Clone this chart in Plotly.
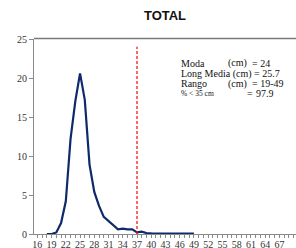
import plotly.graph_objects as go

# Data
lengths = list(range(18, 50))
freq = [0, 0, 0.2, 1.4, 4.2, 12.2, 17.0, 20.6, 17.2, 8.9, 5.4, 3.6, 2.2, 1.7, 1.1, 0.6,
        0.7, 0.6, 0.6, 0.2, 0.3, 0.12, 0.08, 0.06, 0.05, 0.05, 0.05, 0.05, 0.05, 0.05, 0.05, 0.05]
ref_x = [37, 37]
ref_y = [0, 24]
x_ticks = list(range(16, 71, 3))
y_ticks = [0, 5, 10, 15, 20, 25]

W, H = 296, 248
ml, mr, mt, mb = 34, 0, 39, 14
pw, ph = W - ml - mr, H - mt - mb

def px(x):
    return (x - ml) / pw

def py(y):
    return 1 - (y - mt) / ph

fig = go.Figure()
fig.add_trace(go.Scatter(x=lengths, y=freq, mode="lines",
                         line=dict(color="#0d2a6b", width=2.2), hoverinfo="skip"))
fig.add_trace(go.Scatter(x=ref_x, y=ref_y, mode="lines",
                         line=dict(color="#ff0000", width=1.2, dash="3px,2px"), hoverinfo="skip"))

serif = "Liberation Serif, Times New Roman, serif"
fig.update_layout(
    width=W, height=H, margin=dict(l=ml, r=mr, t=mt, b=mb, autoexpand=False),
    paper_bgcolor="white", plot_bgcolor="white", showlegend=False,
    title=dict(text="<b>TOTAL</b>", x=165 / W, xref="container", xanchor="center",
               y=1 - 15 / H, yref="container", yanchor="middle", automargin=False,
               font=dict(family="Liberation Sans, Arial, sans-serif", size=13, color="#111")),
    xaxis=dict(range=[15.3, 70.5], tickmode="array", tickvals=x_ticks, automargin=False,
               ticktext=[str(v) for v in x_ticks], showgrid=False, zeroline=False,
               showline=True, linecolor="#8a8a8a", linewidth=1,
               ticks="outside", ticklen=1, tickcolor="#8a8a8a",
               minor=dict(dtick=1, tick0=16, ticks="outside", ticklen=3, tickcolor="#8a8a8a"),
               tickfont=dict(family=serif, size=10, color="#333")),
    yaxis=dict(range=[0, 25], tickvals=y_ticks, showgrid=False, zeroline=False, automargin=False,
               showline=True, linecolor="#8a8a8a", linewidth=1,
               ticks="outside", ticklen=4, tickcolor="#8a8a8a",
               tickfont=dict(family=serif, size=10, color="#333")),
    shapes=[dict(type="line", xref="paper", yref="paper", x0=0, x1=1, y0=1.003, y1=1.003,
                 layer="above", line=dict(color="#7a7a7a", width=1.5))],
)

def ann(text, x, y, size=10):
    fig.add_annotation(text=text, xref="paper", yref="paper", x=px(x), y=py(y),
                       xanchor="left", yanchor="middle", showarrow=False,
                       font=dict(family=serif, size=size, color="#111"))

ann("Moda", 179, 63)
ann("(cm)", 226, 63)
ann("= 24", 250, 63)
ann("Long Media (cm) = 25.7", 179, 73.5)
ann("Rango", 179, 83.5)
ann("(cm)", 226, 83.5)
ann("= 19-49", 250, 83.5)
ann("% < 35 cm", 179, 93.5, size=7.5)
ann("=", 245, 93.5)
ann("97.9", 254, 93.5)

fig.write_html("out.html", config={"displayModeBar": False},
               post_script="document.body.style.margin='0';")
